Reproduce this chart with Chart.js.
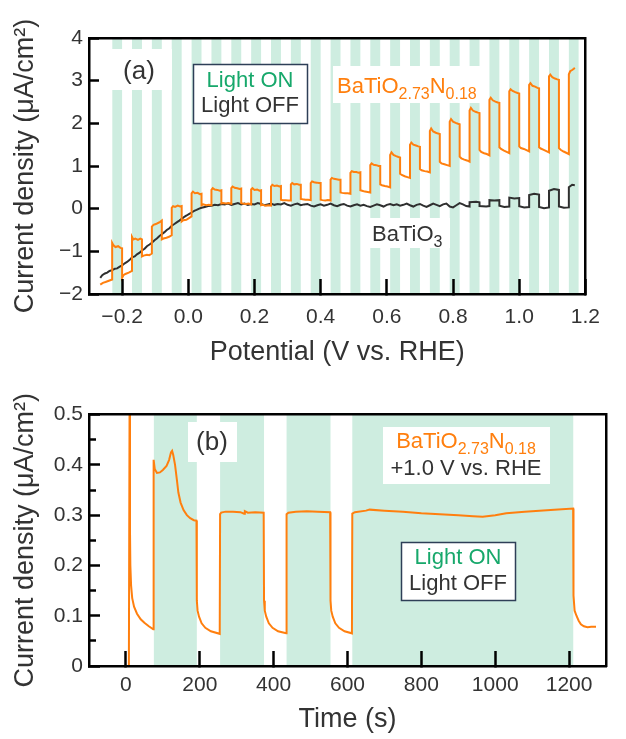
<!DOCTYPE html>
<html><head><meta charset="utf-8">
<script src="https://cdn.jsdelivr.net/npm/chart.js@4.4.0/dist/chart.umd.min.js"></script>
<style>
html,body{margin:0;padding:0;background:#fff;}
#wrap{position:relative;width:626px;height:739px;overflow:hidden;background:#fff;}
canvas{position:absolute;left:0;}
</style></head><body>
<div id="wrap">
<canvas id="c1" width="626" height="385" style="top:0px"></canvas>
<canvas id="c2" width="626" height="354" style="top:385px"></canvas>
</div>
<script>
// ---------- DATA : panel (a) ----------
const potentialTicks = [-0.2, 0.0, 0.2, 0.4, 0.6, 0.8, 1.0, 1.2];
const currentTicksA = [-2, -1, 0, 1, 2, 3, 4];
const lightOnA  = [-0.23,-0.17,-0.11,-0.05,0.01,0.07,0.13,0.19,0.25,0.31,0.37,0.43,0.49,0.55,0.61,0.67,0.73,0.79,0.85,0.91,0.97,1.03,1.09,1.15];
const lightOffA = [-0.20,-0.14,-0.08,-0.02,0.04,0.10,0.16,0.22,0.28,0.34,0.40,0.46,0.52,0.58,0.64,0.70,0.76,0.82,0.88,0.94,1.00,1.06,1.12,1.18];

// BaTiO2.73N0.18 chopped LSV (potential V, current uA/cm2)
const nitrideV = [
-0.266,-0.258,-0.25,-0.24,-0.23,
-0.23,-0.226,-0.22,-0.212,-0.205,-0.20, -0.20,-0.196,-0.19,-0.18,-0.17,
-0.17,-0.166,-0.16,-0.152,-0.145,-0.14, -0.14,-0.135,-0.125,-0.118,-0.11,
-0.11,-0.105,-0.098,-0.09,-0.085,-0.08, -0.08,-0.075,-0.066,-0.058,-0.05,
-0.05,-0.046,-0.04,-0.032,-0.025,-0.02, -0.02,-0.015,-0.006,0.002,0.01,
0.01,0.014,0.02,0.028,0.035,0.04, 0.04,0.045,0.054,0.062,0.07,
0.07,0.074,0.08,0.088,0.095,0.10, 0.10,0.105,0.114,0.122,0.13,
0.13,0.134,0.14,0.148,0.155,0.16, 0.16,0.165,0.174,0.182,0.19,
0.19,0.194,0.20,0.208,0.215,0.22, 0.22,0.225,0.234,0.242,0.25,
0.25,0.254,0.26,0.268,0.275,0.28, 0.28,0.285,0.294,0.302,0.31,
0.31,0.314,0.32,0.328,0.335,0.34, 0.34,0.345,0.354,0.362,0.37,
0.37,0.374,0.38,0.388,0.395,0.40, 0.40,0.405,0.414,0.422,0.43,
0.43,0.434,0.44,0.448,0.455,0.46, 0.46,0.465,0.474,0.482,0.49,
0.49,0.494,0.50,0.508,0.515,0.52, 0.52,0.525,0.534,0.542,0.55,
0.55,0.554,0.56,0.568,0.575,0.58, 0.58,0.585,0.594,0.602,0.61,
0.61,0.614,0.62,0.628,0.635,0.64, 0.64,0.645,0.654,0.662,0.67,
0.67,0.674,0.68,0.688,0.695,0.70, 0.70,0.705,0.714,0.722,0.73,
0.73,0.734,0.74,0.748,0.755,0.76, 0.76,0.765,0.774,0.782,0.79,
0.79,0.794,0.80,0.808,0.815,0.82, 0.82,0.825,0.834,0.842,0.85,
0.85,0.854,0.86,0.868,0.875,0.88, 0.88,0.885,0.894,0.902,0.91,
0.91,0.914,0.92,0.928,0.935,0.94, 0.94,0.945,0.954,0.962,0.97,
0.97,0.974,0.98,0.988,0.995,1.00, 1.00,1.005,1.014,1.022,1.03,
1.03,1.034,1.04,1.048,1.055,1.06, 1.06,1.065,1.074,1.082,1.09,
1.09,1.094,1.10,1.108,1.115,1.12, 1.12,1.125,1.134,1.142,1.15,
1.15,1.154,1.16,1.165,1.168];
const nitrideI = [
-1.78,-1.74,-1.72,-1.69,-1.66,
-0.80,-0.86,-0.90,-0.88,-0.92,-0.93, -1.62,-1.56,-1.53,-1.50,-1.46,
-0.66,-0.72,-0.70,-0.73,-0.70,-0.72, -1.12,-1.10,-1.08,-1.09,-1.05,
-0.42,-0.38,-0.36,-0.33,-0.31,-0.28, -0.72,-0.70,-0.68,-0.66,-0.62,
0.02,0.06,0.04,0.07,0.05,0.06, -0.30,-0.27,-0.26,-0.22,-0.18,
0.36,0.40,0.36,0.37,0.34,0.35, 0.08,0.10,0.08,0.09,0.08,
0.44,0.48,0.45,0.44,0.42,0.43, 0.12,0.13,0.12,0.13,0.11,
0.48,0.52,0.49,0.48,0.46,0.47, 0.13,0.12,0.11,0.12,0.10,
0.45,0.48,0.44,0.45,0.42,0.43, 0.08,0.09,0.07,0.08,0.07,
0.52,0.56,0.53,0.54,0.52,0.53, 0.21,0.20,0.20,0.19,0.19,
0.57,0.60,0.57,0.58,0.56,0.56, 0.23,0.22,0.21,0.21,0.20,
0.60,0.64,0.62,0.61,0.60,0.60, 0.21,0.20,0.19,0.20,0.19,
0.68,0.72,0.70,0.69,0.68,0.68, 0.38,0.37,0.36,0.36,0.35,
0.84,0.88,0.86,0.86,0.84,0.85, 0.43,0.42,0.40,0.39,0.38,
1.02,1.06,1.03,1.02,1.00,1.00, 0.57,0.55,0.53,0.52,0.50,
1.26,1.32,1.26,1.23,1.21,1.20, 0.82,0.79,0.76,0.74,0.72,
1.50,1.55,1.50,1.48,1.46,1.45, 0.93,0.90,0.88,0.87,0.85,
1.82,1.88,1.81,1.78,1.76,1.75, 1.10,1.06,1.04,1.02,1.00,
2.04,2.10,2.04,2.01,1.99,1.98, 1.22,1.18,1.15,1.13,1.10,
2.30,2.36,2.30,2.27,2.25,2.24, 1.38,1.33,1.30,1.28,1.25,
2.55,2.60,2.54,2.51,2.49,2.48, 1.44,1.40,1.36,1.33,1.30,
2.75,2.80,2.76,2.73,2.71,2.70, 1.46,1.42,1.40,1.37,1.34,
2.90,2.94,2.88,2.86,2.83,2.82, 1.44,1.41,1.38,1.35,1.32,
3.10,3.14,3.08,3.05,3.03,3.02, 1.42,1.38,1.34,1.31,1.28,
3.15,3.22,3.25,3.28,3.30];

// BaTiO3 chopped LSV
const oxideV = [
-0.266,-0.26,-0.252,-0.245,-0.238,-0.23,-0.222,-0.215,-0.207,-0.20,-0.192,-0.185,-0.177,-0.17,-0.162,-0.155,-0.147,-0.14,
-0.132,-0.125,-0.117,-0.11,-0.102,-0.095,-0.087,-0.08,-0.072,-0.065,-0.057,-0.05,-0.042,-0.035,-0.027,-0.02,-0.012,-0.005,
0.003,0.01,0.018,0.025,0.033,0.04,0.05,0.06,0.07,0.08,0.09,0.10,
0.11,0.12,0.13,0.14,0.15,0.16,0.17,0.18,0.19,0.20,0.21,0.22,0.23,0.24,0.25,0.26,0.27,0.28,0.29,0.30,
0.31,0.32,0.33,0.34,0.35,0.36,0.37,0.38,0.39,0.40,0.41,0.42,0.43,0.44,0.45,0.46,0.47,0.48,0.49,0.50,
0.51,0.52,0.53,0.54,0.55,0.56,0.57,0.58,0.59,0.60,0.61,0.62,0.63,0.64,0.65,0.66,0.67,0.68,0.69,0.70,
0.71,0.72,0.73,0.74,0.75,0.76,0.77,0.78,0.79,0.80,0.81,0.82,0.83,0.84,
0.85,0.85,0.87,0.88,0.88,0.90,0.91,0.91,0.925,0.94,0.94,0.955,0.97,0.97,0.985,1.00,1.00,1.015,1.03,
1.03,1.045,1.06,1.06,1.075,1.09,1.09,1.105,1.12,1.12,1.135,1.15,1.15,1.16,1.168];
const oxideI = [
-1.62,-1.56,-1.52,-1.50,-1.46,-1.44,-1.41,-1.40,-1.36,-1.33,-1.28,-1.25,-1.20,-1.14,-1.12,-1.07,-1.03,-0.98,
-0.94,-0.88,-0.84,-0.80,-0.74,-0.70,-0.64,-0.60,-0.55,-0.50,-0.46,-0.40,-0.36,-0.32,-0.28,-0.24,-0.19,-0.16,
-0.12,-0.09,-0.05,-0.03,0.00,0.02,0.04,0.06,0.07,0.09,0.08,0.11,
0.10,0.12,0.09,0.11,0.13,0.10,0.12,0.09,0.11,0.10,0.13,0.11,0.08,0.10,0.12,0.09,0.11,0.10,0.13,0.09,
0.07,0.10,0.12,0.08,0.10,0.11,0.07,0.05,0.08,0.10,0.07,0.09,0.12,0.08,0.06,0.09,0.11,0.07,0.05,0.08,
0.10,0.07,0.09,0.06,0.04,0.07,0.10,0.08,0.05,0.09,0.11,0.08,0.10,0.07,0.09,0.12,0.08,0.05,0.09,0.11,
0.07,0.04,0.08,0.12,0.09,0.06,0.10,0.12,0.05,0.03,0.08,0.13,0.10,0.06,
0.05,0.15,0.16,0.15,0.06,0.05,0.06,0.20,0.19,0.20,0.07,0.04,0.05,0.26,0.24,0.25,0.06,0.03,0.04,
0.32,0.35,0.33,0.04,0.01,0.03,0.42,0.46,0.44,0.05,0.02,0.03,0.50,0.56,0.55];

// ---------- DATA : panel (b) ----------
const timeTicks = [0, 200, 400, 600, 800, 1000, 1200];
const currentTicksB = [0, 0.1, 0.2, 0.3, 0.4, 0.5];
const currentMinorB = [0.05, 0.15, 0.25, 0.35, 0.45];
const lightOnB  = [75, 255, 435, 613];
const lightOffB = [192, 374, 554, 1212];
const timeB = [
8,10,11,12,14,17,22,30,40,50,62,74,
75,78,84,92,100,110,117,122,125,128,133,138,142,148,156,165,174,184,191,
192,194,198,205,215,230,254,
255,258,270,290,310,320,322,330,350,373,
374,376,380,387,397,412,434,
435,440,460,490,520,553,
554,556,560,567,577,592,612,
613,620,650,660,700,750,800,850,900,940,966,1000,1030,1080,1120,1160,1211,
1212,1215,1220,1226,1232,1240,1250,1260,1273];
const currentB = [
0.00,0.56,0.27,0.20,0.16,0.135,0.118,0.104,0.093,0.086,0.079,0.073,
0.41,0.392,0.384,0.385,0.39,0.398,0.41,0.425,0.428,0.42,0.40,0.37,0.345,0.325,0.31,0.30,0.294,0.29,0.289,
0.13,0.11,0.098,0.085,0.076,0.069,0.064,
0.302,0.305,0.307,0.307,0.306,0.303,0.308,0.305,0.306,0.305,
0.13,0.11,0.098,0.085,0.076,0.069,0.065,
0.302,0.305,0.307,0.308,0.307,0.306,
0.13,0.11,0.098,0.085,0.076,0.069,0.065,
0.303,0.306,0.309,0.311,0.309,0.307,0.304,0.302,0.300,0.298,0.297,0.300,0.304,0.307,0.309,0.311,0.313,
0.14,0.11,0.10,0.09,0.083,0.079,0.077,0.078,0.078];

// ---------- STYLE ----------
const FONT = "'Liberation Sans', Arial, Helvetica, sans-serif";
const ORANGE = '#ff7f0e';
const DARK = '#333333';
const GREEN = '#17a86b';
const STRIPE = '#ceede0';
const BOXLINE = '#2e3f57';
const TICKF = 21, TITLEF = 27, LABF = 22;

const pts = (xs, ys) => xs.map((x, i) => ({x, y: ys[i]}));
function bands(on, off, lo, hi) {
  const out = [];
  on.forEach((s, i) => { out.push({x: s, y: lo}, {x: s, y: hi}, {x: off[i], y: hi}, {x: off[i], y: lo}); });
  return out;
}
const minus = s => String(s).replace('-', '\u2212');

function frameAxis(pos) {
  return {
    type: 'linear', position: pos, display: true,
    grid: {display: false, drawTicks: false},
    ticks: {display: false},
    border: {display: true, color: '#000', width: 2.5, z: 2},
    afterFit: s => { if (pos === 'top' || pos === 'bottom') s.height = 0; else s.width = 0; }
  };
}

function richText(ctx, parts, x, y, align, size, color) {
  const sub = Math.round(size * 0.72);
  let w = 0;
  parts.forEach(([t, s]) => { ctx.font = (s ? sub : size) + 'px ' + FONT; w += ctx.measureText(t).width; });
  let cx = align === 'center' ? x - w / 2 : x;
  ctx.fillStyle = color; ctx.textAlign = 'left'; ctx.textBaseline = 'alphabetic';
  parts.forEach(([t, s]) => {
    ctx.font = (s ? sub : size) + 'px ' + FONT;
    ctx.fillText(t, cx, s ? y + size * 0.26 : y);
    cx += ctx.measureText(t).width;
  });
}
function whiteBox(ctx, x, y, w, h, stroke) {
  ctx.fillStyle = '#fff'; ctx.fillRect(x, y, w, h);
  if (stroke) { ctx.strokeStyle = BOXLINE; ctx.lineWidth = 1.5; ctx.strokeRect(x + 0.5, y + 0.5, w, h); }
}
function centerText(ctx, t, x, y, size, color) {
  ctx.font = size + 'px ' + FONT; ctx.fillStyle = color; ctx.textAlign = 'center'; ctx.textBaseline = 'middle';
  ctx.fillText(t, x, y);
}

const labelsA = {
  id: 'labelsA',
  afterDatasetsDraw(chart) {
    const ctx = chart.ctx; ctx.save();
    whiteBox(ctx, 106, 49, 66, 41);
    centerText(ctx, '(a)', 139, 72, 26, DARK);
    whiteBox(ctx, 193, 64, 114, 59, true);
    centerText(ctx, 'Light ON', 250, 81, LABF, GREEN);
    centerText(ctx, 'Light OFF', 250, 106, LABF, DARK);
    whiteBox(ctx, 333, 66, 150, 37);
    richText(ctx, [['BaTiO', 0], ['2.73', 1], ['N', 0], ['0.18', 1]], 337, 93, 'left', LABF, ORANGE);
    whiteBox(ctx, 366, 218, 84, 30);
    richText(ctx, [['BaTiO', 0], ['3', 1]], 372, 241, 'left', LABF, DARK);
    ctx.restore();
  }
};
const labelsB = {
  id: 'labelsB',
  afterDatasetsDraw(chart) {
    const ctx = chart.ctx; ctx.save();
    whiteBox(ctx, 188, 37, 49, 40);
    centerText(ctx, '(b)', 212, 58, 26, DARK);
    whiteBox(ctx, 383, 42, 167, 57);
    richText(ctx, [['BaTiO', 0], ['2.73', 1], ['N', 0], ['0.18', 1]], 466, 63, 'center', LABF, ORANGE);
    ctx.font = LABF + 'px ' + FONT; ctx.fillStyle = DARK; ctx.textAlign = 'center'; ctx.textBaseline = 'alphabetic';
    ctx.fillText('+1.0 V vs. RHE', 466, 90);
    whiteBox(ctx, 401, 157, 114, 58, true);
    centerText(ctx, 'Light ON', 458, 173, LABF, GREEN);
    centerText(ctx, 'Light OFF', 458, 199, LABF, DARK);
    ctx.restore();
  }
};

Chart.defaults.font.family = FONT;

const gridOpts = len => ({drawOnChartArea: false, tickLength: len, tickWidth: 2.5, tickColor: '#000', z: 2});
const borderOpts = {color: '#000', width: 2.5, z: 2};

// ---------- PANEL (a) ----------
new Chart(document.getElementById('c1'), {
  type: 'line',
  data: {
    datasets: [
      {data: bands(lightOnA, lightOffA, -2, 4), fill: 'start', backgroundColor: STRIPE, borderWidth: 0, pointRadius: 0, order: 10, tension: 0},
      {data: pts(oxideV, oxideI), borderColor: '#2f2f2f', borderWidth: 2, pointRadius: 0, fill: false, order: 2, tension: 0},
      {data: pts(nitrideV, nitrideI), borderColor: ORANGE, borderWidth: 2, pointRadius: 0, fill: false, order: 1, tension: 0}
    ]
  },
  options: {
    responsive: false, animation: false, devicePixelRatio: 1, events: [],
    layout: {padding: {top: 38, right: 20, left: 0, bottom: 0}},
    plugins: {legend: {display: false}, tooltip: {enabled: false}},
    scales: {
      x: {
        type: 'linear', position: 'bottom', min: -0.3, max: 1.2,
        afterBuildTicks: s => { s.ticks = potentialTicks.map(v => ({value: v})); },
        afterFit: s => { s.height = 91; },
        grid: gridOpts(-15),
        border: borderOpts,
        ticks: {font: {size: TICKF}, color: DARK, padding: 26, maxRotation: 0, autoSkip: false,
                callback: v => minus(Number(v).toFixed(1))},
        title: {display: true, text: 'Potential (V vs. RHE)', color: DARK, font: {size: TITLEF}, padding: {top: 0, bottom: 16}}
      },
      y: {
        type: 'linear', position: 'left', min: -2, max: 4,
        afterBuildTicks: s => { s.ticks = currentTicksA.map(v => ({value: v})); },
        afterFit: s => { s.width = 89; },
        grid: gridOpts(-10),
        border: borderOpts,
        ticks: {font: {size: TICKF}, color: DARK, padding: 16, autoSkip: false, callback: v => minus(v)},
        title: {display: true, text: 'Current density (\u03bcA/cm\u00b2)', color: DARK, font: {size: TITLEF}, padding: {top: 9, bottom: 0}}
      },
      xTop: frameAxis('top'),
      yRight: frameAxis('right')
    }
  },
  plugins: [labelsA]
});

// ---------- PANEL (b) ----------
new Chart(document.getElementById('c2'), {
  type: 'line',
  data: {
    datasets: [
      {data: bands(lightOnB, lightOffB, 0, 0.5), fill: 'start', backgroundColor: STRIPE, borderWidth: 0, pointRadius: 0, order: 10, tension: 0},
      {data: pts(timeB, currentB), borderColor: ORANGE, borderWidth: 2, pointRadius: 0, fill: false, order: 1, tension: 0}
    ]
  },
  options: {
    responsive: false, animation: false, devicePixelRatio: 1, events: [],
    layout: {padding: {top: 24, right: 20, left: 0, bottom: 0}},
    plugins: {legend: {display: false}, tooltip: {enabled: false}},
    scales: {
      x: {
        type: 'linear', position: 'bottom', min: -100, max: 1300,
        afterBuildTicks: s => { s.ticks = timeTicks.map(v => ({value: v})); },
        afterFit: s => { s.height = 73; },
        grid: gridOpts(-15),
        border: borderOpts,
        ticks: {font: {size: TICKF}, color: DARK, padding: 22, maxRotation: 0, autoSkip: false, callback: v => String(v)},
        title: {display: true, text: 'Time (s)', color: DARK, font: {size: TITLEF}, padding: {top: 0, bottom: 3}}
      },
      y: {
        type: 'linear', position: 'left', min: 0, max: 0.5, weight: 1,
        afterBuildTicks: s => { s.ticks = currentTicksB.map(v => ({value: v})); },
        afterFit: s => { s.width = 89; },
        grid: gridOpts(-11),
        border: borderOpts,
        ticks: {font: {size: TICKF}, color: DARK, padding: 17, autoSkip: false, callback: v => (v === 0 ? '0' : Number(v).toFixed(1))},
        title: {display: true, text: 'Current density (\u03bcA/cm\u00b2)', color: DARK, font: {size: TITLEF}, padding: {top: 9, bottom: 0}}
      },
      yMinor: {
        type: 'linear', position: 'left', min: 0, max: 0.5, weight: 0,
        afterBuildTicks: s => { s.ticks = currentMinorB.map(v => ({value: v})); },
        afterFit: s => { s.width = 0; },
        grid: gridOpts(-7),
        border: {display: false},
        ticks: {display: false}
      },
      xTop: frameAxis('top'),
      yRight: frameAxis('right')
    }
  },
  plugins: [labelsB]
});
</script>
</body></html>
